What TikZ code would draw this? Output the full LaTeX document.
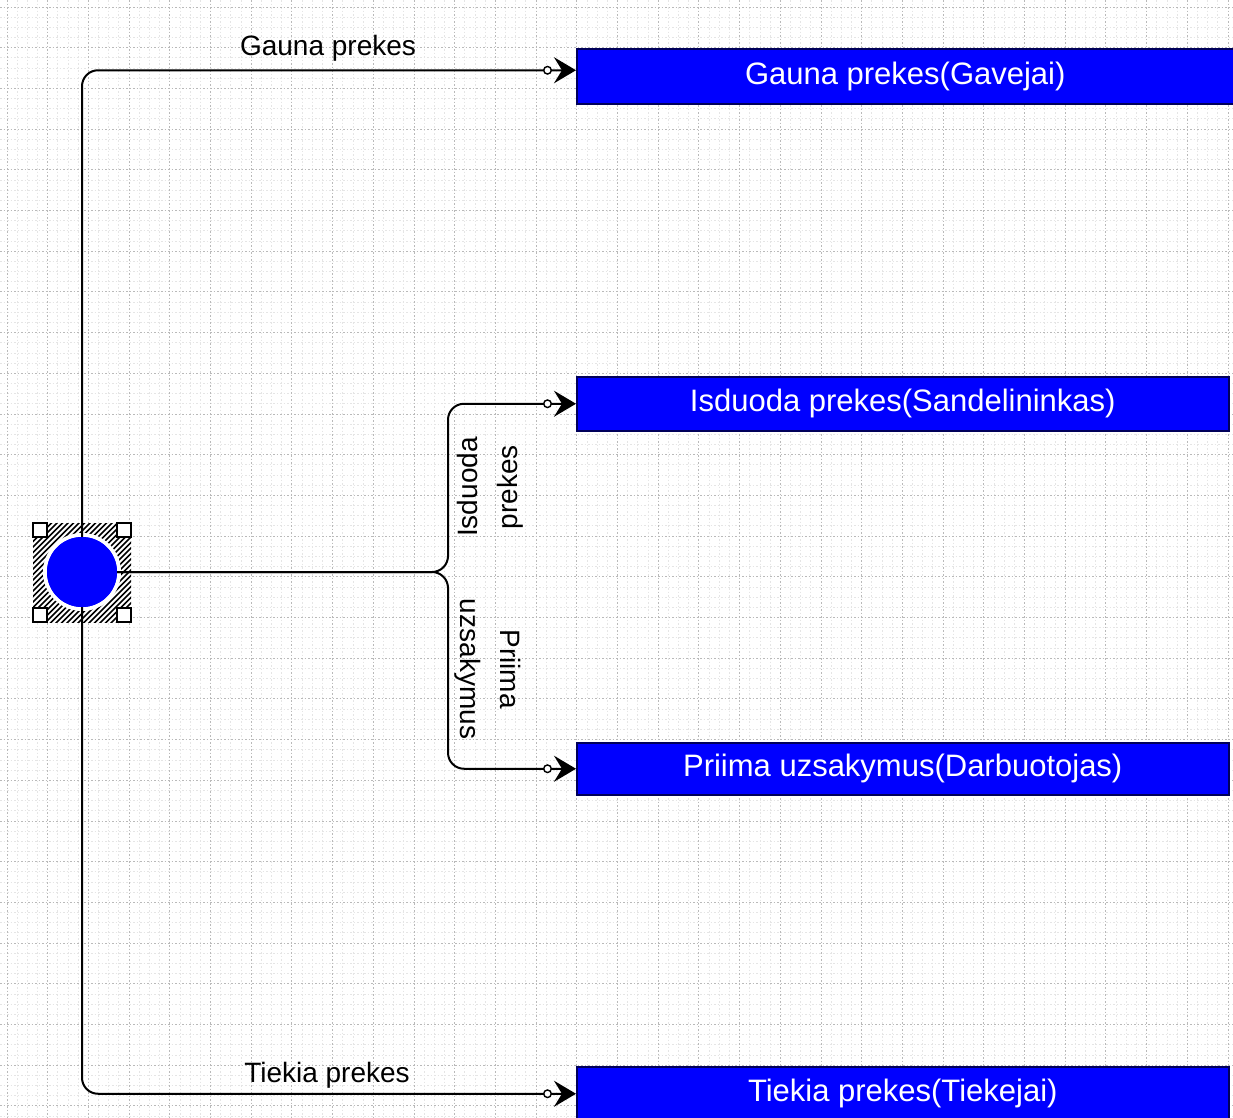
\documentclass[tikz,border=0pt]{standalone}
\usepackage{fontspec}
\setmainfont{Liberation Sans}
\usetikzlibrary{arrows.meta}
\definecolor{boxblue}{RGB}{0,0,255}
\definecolor{boxedge}{RGB}{0,0,90}
\begin{document}
\begin{tikzpicture}[x=1pt,y=-1pt,
  gridmajor/.style={gray!55,line width=1pt,dash pattern=on 1.5pt off 2pt},
  gridminor/.style={gray!20,line width=0.9pt,dash pattern=on 1.5pt off 2pt},
  rolebox/.style={rectangle,fill=boxblue,draw=boxedge,line width=1.5pt,
    anchor=north west,text=white,inner sep=0pt,
    font=\fontsize{31}{36}\selectfont},
  flowlabel/.style={font=\fontsize{28}{40}\selectfont,inner sep=0pt},
  flow/.style={line width=2pt,rounded corners=16pt,
    -{Circle[fill=white,length=9pt,line width=1.4pt,sep=2pt]Stealth[length=22pt,width=26pt,inset=8pt]}},
  handle/.style={fill=white,draw=black,line width=1.3pt}]
\clip (0,0) rectangle (1233,1117);
\fill[white] (0,0) rectangle (1233,1117);

% background grid
\foreach \i in {-4,...,123} {
  \draw[gridminor] ({7+10.175*\i},0) -- ({7+10.175*\i},1117);
  \draw[gridminor] (0,{7+10.175*\i}) -- (1233,{7+10.175*\i});
}
\foreach \i in {0,...,30} {
  \draw[gridmajor] ({7+40.7*\i},0) -- ({7+40.7*\i},1117);
  \draw[gridmajor] (0,{7+40.7*\i}) -- (1233,{7+40.7*\i});
}

% selection frame round the start node
\begin{scope}
  \clip (33,523) rectangle (131,622);
  \fill[white] (33,523) rectangle (131,622);
  \foreach \k in {-20,...,20}
    \draw[line width=1.6pt] ({33+5.5*\k},624) -- ++(104,-104);
\end{scope}

% role boxes
\node[rolebox,minimum width=657pt,minimum height=55pt] (b1) at (576,48) {Gauna prekes(Gavejai)};
\node[rolebox,minimum width=652pt,minimum height=54pt] (b2) at (576,376) {Isduoda prekes(Sandelininkas)};
\node[rolebox,minimum width=652pt,minimum height=52pt] (b3) at (576,742) {Priima uzsakymus(Darbuotojas)};
\node[rolebox,minimum width=652pt,minimum height=54pt] (b4) at (576,1066) {Tiekia prekes(Tiekejai)};

% start node with its white halo
\node[circle,fill=white,minimum size=78pt,inner sep=0pt] (halo) at (82,572) {};
\node[circle,fill=boxblue,minimum size=70pt,inner sep=0pt] (c) at (82,572) {};

% connectors
\coordinate (j) at (448,572);
\draw[flow] (c.north) |- ([yshift=6pt]b1.west);
\draw[flow] (c.south) |- (b4.west);
\draw[flow] (c.east) -- (j) |- (b2.west);
\draw[flow] (c.east) -- (j) |- (b3.west);

% keep the disc on top of the line ends
\fill[boxblue] (c.center) circle (35pt);

% handles
\draw[handle] (33,523) rectangle (47,537);
\draw[handle] (117,523) rectangle (131,537);
\draw[handle] (33,608) rectangle (47,622);
\draw[handle] (117,608) rectangle (131,622);

% connector labels
\node[flowlabel,anchor=base] (l1) at (328,55) {Gauna prekes};
\node[flowlabel,anchor=base] (l4) at (327,1082) {Tiekia prekes};
\node[flowlabel,align=center,rotate=90] (l2) at (490,487) {Isduoda\\prekes};
\node[flowlabel,align=center,rotate=-90] (l3) at (488,669) {Priima\\uzsakymus};
\end{tikzpicture}
\end{document}
